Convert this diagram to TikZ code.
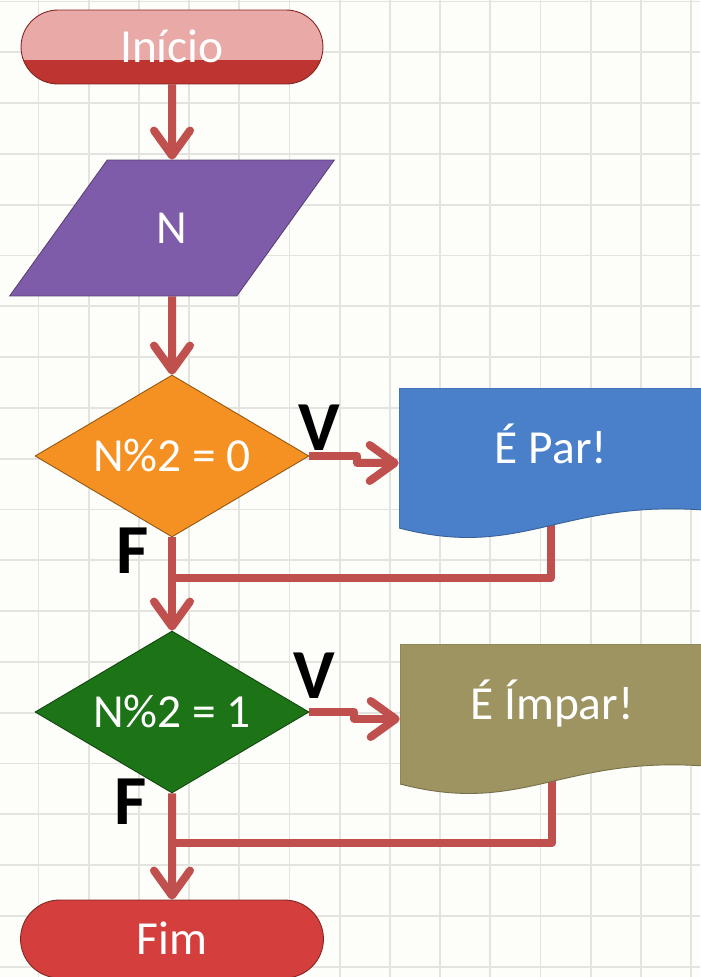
\documentclass[tikz,border=0pt]{standalone}
\usepackage{fontspec}
\setmainfont{Carlito}
\usetikzlibrary{shapes.geometric,shapes.misc,arrows.meta,calc}

\definecolor{fundo}{HTML}{FDFDFA}
\definecolor{corgrade}{HTML}{E3E4DF}
\definecolor{seta}{HTML}{C0504D}
\definecolor{inirosa}{HTML}{E9A9A7}
\definecolor{inivermelho}{HTML}{BD3430}
\definecolor{roxo}{HTML}{7F5CA9}
\definecolor{laranja}{HTML}{F49122}
\definecolor{verde}{HTML}{1D7417}
\definecolor{azul}{HTML}{4A80CA}
\definecolor{oliva}{HTML}{9D9462}
\definecolor{fimvermelho}{HTML}{D43F3D}

\pgfdeclarelayer{grade}
\pgfdeclarelayer{linhas}
\pgfsetlayers{grade,linhas,main}

\tikzset{
    texto/.style={text=white, font=\fontsize{27}{32}\selectfont, inner sep=0pt,
        text height=0.8cm, text depth=0.19cm},
    inicio/.style={texto, rounded rectangle, minimum width=6.04cm, minimum height=1.48cm,
        fill=inirosa, draw=inivermelho!70!black, line width=0.5pt,
        path picture={\fill[inivermelho] ([shift={(0,13)}]path picture bounding box.west)
            rectangle (path picture bounding box.south east);}},
    fimbox/.style={texto, rounded rectangle, minimum width=6.06cm, minimum height=1.56cm,
        fill=fimvermelho, draw=fimvermelho!60!black, line width=0.5pt},
    entrada/.style={texto, trapezium, trapezium left angle=65, trapezium right angle=115,
        trapezium stretches=true, minimum width=6.52cm, minimum height=2.72cm,
        fill=roxo, draw=roxo!70!black, line width=0.5pt},
    decisao/.style={texto, diamond, aspect=1.7, minimum width=5.48cm, minimum height=3.24cm,
        fill=#1, draw=#1!60!black, line width=0.5pt},
    saida/.style={texto, minimum width=6.08cm, minimum height=3cm,
        text height=0.6cm, text depth=0.6cm,
        path picture={\filldraw[fill=#1, draw=#1!75!black, line width=0.5pt]
            (path picture bounding box.north west) -- (path picture bounding box.north east)
            -- ([shift={(0,-28)}]path picture bounding box.south east)
            .. controls ([shift={(-143,-38)}]path picture bounding box.south east)
            and ([shift={(122,22)}]path picture bounding box.south west)
            .. ([shift={(0,-10)}]path picture bounding box.south west) -- cycle;}},
    rotulo/.style={font=\fontsize{40}{44}\selectfont\bfseries, anchor=base, inner sep=0pt},
    conector/.style={draw=seta, line width=0.16cm, line join=round},
    ponta/.style={-{Straight Barb[length=0.5cm,width=0.72cm,round]}}
}

\begin{document}
\begin{tikzpicture}[x=0.02cm, y=-0.02cm]
    \useasboundingbox (0,0) rectangle (700,977);

    % fundo quadriculado
    \begin{pgfonlayer}{grade}
    \fill[fundo] (0,0) rectangle (700,977);
    \foreach \gx in {38.5,88.7,...,700}
        \draw[corgrade, line width=1pt] (\gx,0) -- (\gx,977);
    \foreach \gy in {1.5,52.3,...,977}
        \draw[corgrade, line width=1pt] (0,\gy) -- (700,\gy);
    \end{pgfonlayer}

    \node[inicio] (ini) at (172,47) {Início};
    \node[entrada] (n) at (172,228) {N};
    \node[decisao=laranja] (d1) at (172,456) {N\%2 = 0};
    \node[saida=azul] (par) at (551,463) {É Par!};
    \node[decisao=verde] (d2) at (172,712) {N\%2 = 1};
    \node[saida=oliva] (impar) at (552,719) {É Ímpar!};
    \node[fimbox] (fim) at (172,939) {Fim};

    \node[rotulo] (v1) at (319,450) {V};
    \node[rotulo] (f1) at (133,573) {F};
    \node[rotulo] (v2) at (314,698) {V};
    \node[rotulo] (f2) at (131,824) {F};

    \coordinate (j1) at (172,578);
    \coordinate (j2) at (172,843);

    % conectores
    \begin{pgfonlayer}{linhas}
    \draw[conector, ponta] (ini) -- (n);
    \draw[conector, ponta] (n) -- (d1);
    \draw[conector, ponta] (d1.east) -- ++(48,0) |- (par.west);
    \draw[conector] (par.center) |- (j1);
    \draw[conector, ponta] (d1) -- (d2);
    \draw[conector, ponta] (d2.east) -- ++(45,0) |- (impar.west);
    \draw[conector] (impar.center) |- (j2);
    \draw[conector, ponta] (d2) -- (fim);
    \end{pgfonlayer}
\end{tikzpicture}
\end{document}
